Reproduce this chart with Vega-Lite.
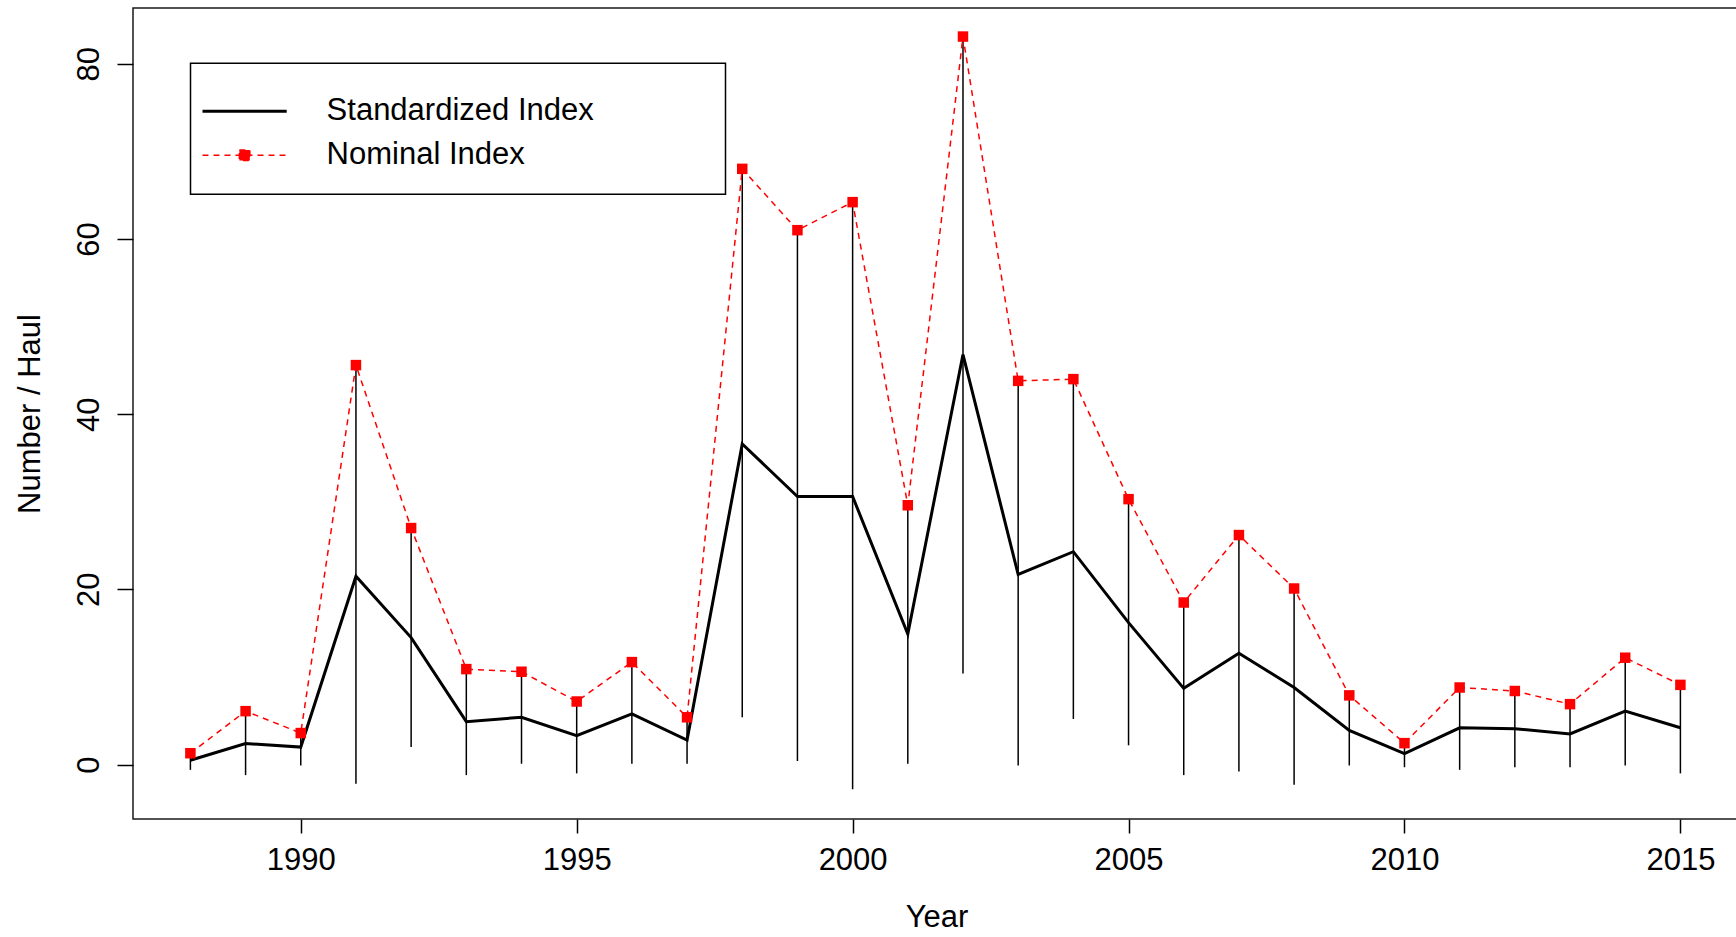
{
  "$schema": "https://vega.github.io/schema/vega-lite/v6.json",
  "width": 1607,
  "height": 811,
  "autosize": {"type": "none"},
  "padding": {"left": 133, "top": 8, "right": -4, "bottom": 118},
  "background": "white",
  "config": {
    "font": "Liberation Sans",
    "view": {"stroke": "#1a1a1a", "strokeWidth": 1.5},
    "axis": {
      "grid": false,
      "domain": false,
      "tickColor": "#000000",
      "tickWidth": 1.5,
      "labelFont": "Liberation Sans",
      "labelFontSize": 31,
      "labelColor": "#000000",
      "titleFont": "Liberation Sans",
      "titleFontSize": 31,
      "titleFontWeight": "normal",
      "titleColor": "#000000"
    }
  },
  "data": {
    "values": [
      {"year": 1988, "std": 0.5, "nominal": 1.3, "lo": -0.6, "hi": 1.3},
      {"year": 1989, "std": 2.4, "nominal": 6.1, "lo": -1.2, "hi": 6.1},
      {"year": 1990, "std": 2.0, "nominal": 3.6, "lo": -0.1, "hi": 3.6},
      {"year": 1991, "std": 21.5, "nominal": 45.6, "lo": -2.2, "hi": 45.6},
      {"year": 1992, "std": 14.5, "nominal": 27.0, "lo": 2.0, "hi": 27.0},
      {"year": 1993, "std": 4.9, "nominal": 10.9, "lo": -1.2, "hi": 10.9},
      {"year": 1994, "std": 5.4, "nominal": 10.6, "lo": 0.1, "hi": 10.6},
      {"year": 1995, "std": 3.3, "nominal": 7.2, "lo": -1.0, "hi": 7.2},
      {"year": 1996, "std": 5.8, "nominal": 11.7, "lo": 0.1, "hi": 11.7},
      {"year": 1997, "std": 2.8, "nominal": 5.4, "lo": 0.1, "hi": 5.4},
      {"year": 1998, "std": 36.6, "nominal": 68.0, "lo": 5.4, "hi": 68.0},
      {"year": 1999, "std": 30.6, "nominal": 61.0, "lo": 0.4, "hi": 61.0},
      {"year": 2000, "std": 30.6, "nominal": 64.2, "lo": -2.8, "hi": 64.2},
      {"year": 2001, "std": 14.9, "nominal": 29.6, "lo": 0.1, "hi": 29.6},
      {"year": 2002, "std": 46.8, "nominal": 83.1, "lo": 10.4, "hi": 83.1},
      {"year": 2003, "std": 21.7, "nominal": 43.8, "lo": -0.1, "hi": 43.8},
      {"year": 2004, "std": 24.3, "nominal": 44.0, "lo": 5.2, "hi": 44.0},
      {"year": 2005, "std": 16.2, "nominal": 30.3, "lo": 2.2, "hi": 30.3},
      {"year": 2006, "std": 8.7, "nominal": 18.5, "lo": -1.2, "hi": 18.5},
      {"year": 2007, "std": 12.7, "nominal": 26.2, "lo": -0.8, "hi": 26.2},
      {"year": 2008, "std": 8.8, "nominal": 20.1, "lo": -2.3, "hi": 20.1},
      {"year": 2009, "std": 3.9, "nominal": 7.9, "lo": -0.1, "hi": 7.9},
      {"year": 2010, "std": 1.25, "nominal": 2.45, "lo": -0.3, "hi": 2.45},
      {"year": 2011, "std": 4.2, "nominal": 8.8, "lo": -0.6, "hi": 8.8},
      {"year": 2012, "std": 4.1, "nominal": 8.4, "lo": -0.3, "hi": 8.4},
      {"year": 2013, "std": 3.5, "nominal": 6.9, "lo": -0.3, "hi": 6.9},
      {"year": 2014, "std": 6.1, "nominal": 12.2, "lo": -0.1, "hi": 12.2},
      {"year": 2015, "std": 4.2, "nominal": 9.1, "lo": -1.0, "hi": 9.1}
    ]
  },
  "layer": [
    {
      "mark": {"type": "rule", "color": "#000000", "strokeWidth": 1.5},
      "encoding": {
        "x": {
          "field": "year",
          "type": "quantitative",
          "scale": {"domain": [1986.96, 2016.08], "nice": false, "zero": false},
          "axis": {
            "values": [1990, 1995, 2000, 2005, 2010, 2015],
            "format": "d",
            "tickSize": 14,
            "labelPadding": 36,
            "labelBaseline": "alphabetic",
            "labelFlush": false,
            "labelOverlap": false,
            "title": "Year",
            "titlePadding": 27
          }
        },
        "y": {
          "field": "lo",
          "type": "quantitative",
          "scale": {"domain": [-6.21, 86.36], "nice": false, "zero": false},
          "axis": {
            "values": [0, 20, 40, 60, 80],
            "tickSize": 16,
            "labelAngle": -90,
            "labelAlign": "center",
            "labelBaseline": "alphabetic",
            "labelPadding": 19,
            "labelOverlap": false,
            "title": "Number / Haul",
            "titlePadding": 27
          }
        },
        "y2": {"field": "hi"}
      }
    },
    {
      "mark": {"type": "line", "strokeWidth": 3, "color": "#000000"},
      "encoding": {
        "x": {"field": "year", "type": "quantitative"},
        "y": {"field": "std", "type": "quantitative"},
        "color": {
          "datum": "Standardized Index",
          "type": "nominal",
          "scale": {"domain": ["Standardized Index", "Nominal Index"], "range": ["#000000", "#ff0000"]},
          "legend": {
            "orient": "none",
            "legendX": 57.5,
            "legendY": 55.3,
            "title": " ",
            "titleFontSize": 1,
            "titlePadding": 7.8,
            "direction": "vertical",
            "padding": 23.6,
            "strokeColor": "#000000",
            "fillColor": "#ffffff",
            "cornerRadius": 0,
            "symbolSize": 4096,
            "rowPadding": 12,
            "labelOffset": 81.5,
            "labelFont": "Liberation Sans",
            "labelFontSize": 31,
            "labelColor": "#000000",
            "labelLimit": 0,
            "encode": {
              "legend": {"update": {"strokeWidth": {"value": 1.5}}},
              "symbols": {
                "update": {
                  "shape": {"signal": "datum.value == 'Nominal Index' ? 'M-0.847,0H1.784M0.305,-0.164H0.633V0.164H0.305ZM14.556,0' : 'M-0.847,0H1.784M14.556,0'"},
                  "fill": {"signal": "datum.value == 'Nominal Index' ? '#ff0000' : 'transparent'"},
                  "stroke": {"signal": "datum.value == 'Nominal Index' ? '#ff0000' : '#000000'"},
                  "strokeWidth": {"signal": "datum.value == 'Nominal Index' ? 1.5 : 3"},
                  "strokeDash": {"signal": "datum.value == 'Nominal Index' ? [6, 5] : [1, 0]"},
                  "opacity": {"value": 1}
                }
              }
            }
          }
        }
      }
    },
    {
      "mark": {"type": "line", "strokeWidth": 1.5, "strokeDash": [6, 5]},
      "encoding": {
        "x": {"field": "year", "type": "quantitative"},
        "y": {"field": "nominal", "type": "quantitative"},
        "color": {"datum": "Nominal Index", "type": "nominal"}
      }
    },
    {
      "mark": {"type": "point", "shape": "square", "filled": true, "color": "#ff0000", "size": 110, "opacity": 1},
      "encoding": {
        "x": {"field": "year", "type": "quantitative"},
        "y": {"field": "nominal", "type": "quantitative"}
      }
    }
  ]
}
